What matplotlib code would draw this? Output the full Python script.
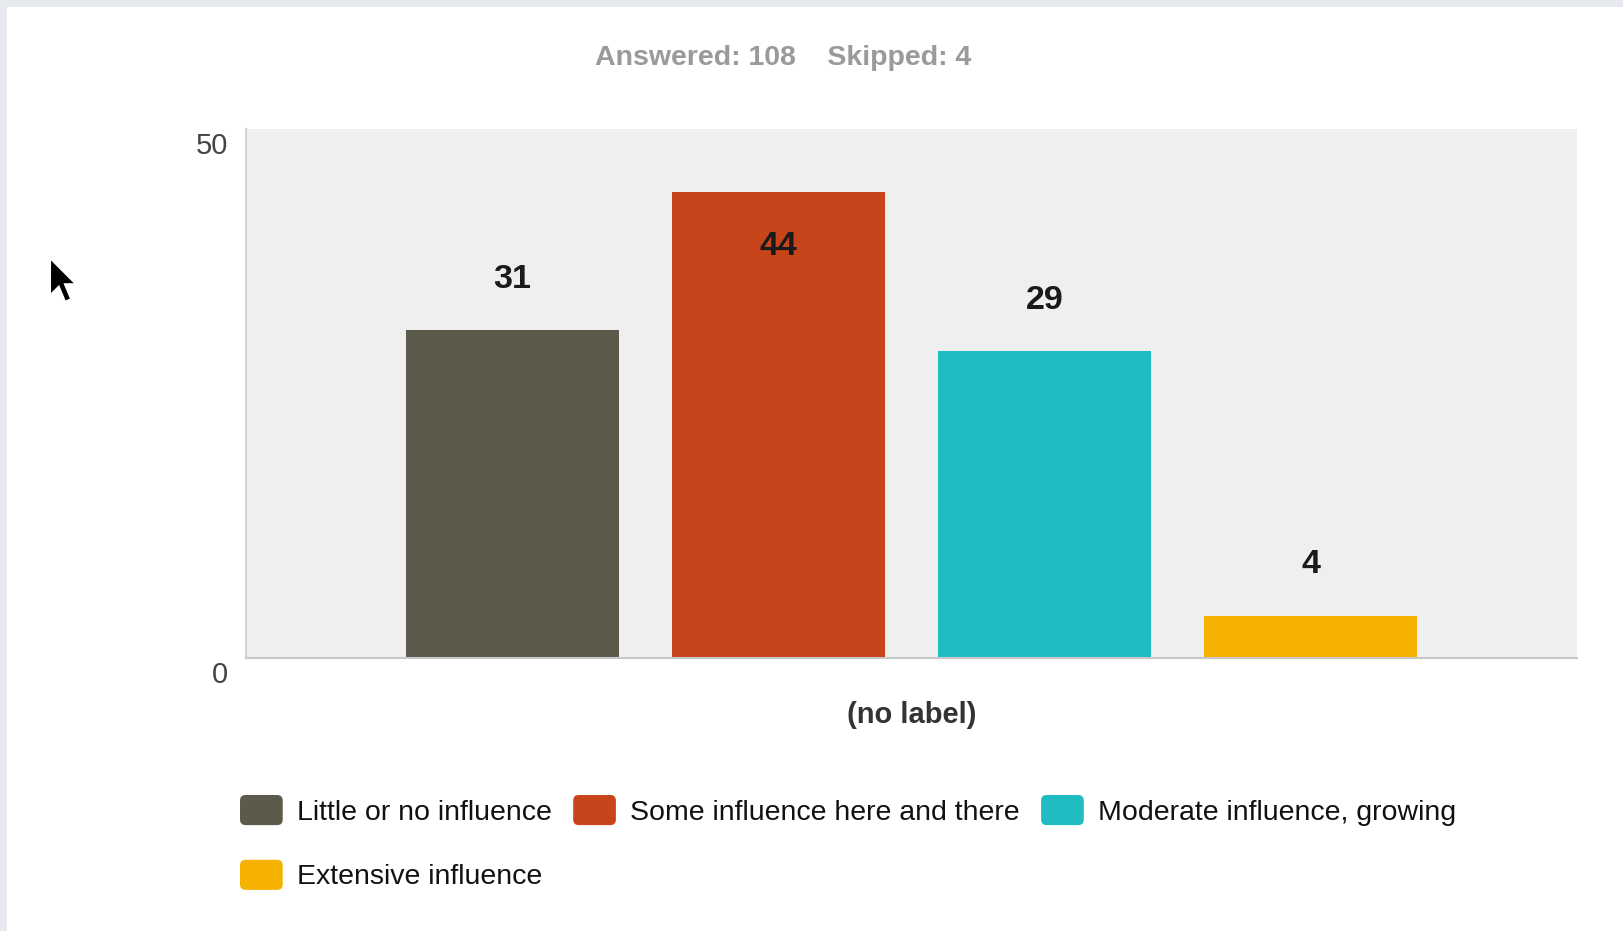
import matplotlib
matplotlib.use("Agg")
import matplotlib.pyplot as plt
import matplotlib.patches as mpatches
import matplotlib.transforms as mtransforms
from matplotlib.legend_handler import HandlerPatch

plt.rcParams['font.family'] = ['Liberation Sans', 'DejaVu Sans']

# data
categories = ['Little or no influence', 'Some influence here and there',
              'Moderate influence, growing', 'Extensive influence']
counts = [31, 44, 29, 4]
colors = ['#5b5a4b', '#c8441a', '#21bcc2', '#f6b200']
y_ticks = [0, 50]
summary = 'Answered: 108    Skipped: 4'
x_label = '(no label)'

W, H = 1623, 931
fig = plt.figure(figsize=(W / 100, H / 100), dpi=100)
fig.patch.set_facecolor('#e6e9ee')
# white page area of the screenshot
fig.patches.append(mpatches.Rectangle((7 / W, 0), 1, 1 - 7 / H, transform=fig.transFigure,
                                      facecolor='white', edgecolor='none', zorder=-1))

ax = fig.add_axes([246 / W, 1 - 658 / H, 1331 / W, 529 / H])
ax.set_zorder(1)
ax.set_facecolor('#efefef')

xs = list(range(len(counts)))
ax.bar(xs, counts, width=0.8, color=colors, zorder=2)
ax.set_xlim(-1, len(counts))
ax.set_ylim(0, 50)

# value labels, moved inside the bar when it reaches near the top
for x, v in zip(xs, counts):
    y = v + 4.8 if v + 4.8 < 46 else v - 5.1
    ax.text(x, y, str(v), ha='center', va='center', fontsize=24.5, fontweight='bold',
            color='#1a1a1a', zorder=3)

for side in ['top', 'right']:
    ax.spines[side].set_visible(False)
ax.spines['left'].set_color('#d4d4d4')
ax.spines['bottom'].set_color('#c8c8c8')
ax.spines['left'].set_linewidth(1.5)
ax.spines['bottom'].set_linewidth(1.5)

ax.set_xticks([])
ax.set_yticks(y_ticks)
ax.set_yticklabels([str(t) for t in y_ticks], fontsize=21, color='#444444')
ax.tick_params(axis='y', length=0, pad=13)
offset = mtransforms.ScaledTranslation(0, -14 / 100, fig.dpi_scale_trans)
for lbl in ax.get_yticklabels():
    lbl.set_transform(lbl.get_transform() + offset)

ax.set_xlabel(x_label, fontsize=21, fontweight='bold', color='#333333', labelpad=31)

fig.text(783 / W, 1 - 58 / H, summary, ha='center', va='center', fontsize=20.5,
         fontweight='bold', color='#9a9a9a')


def rounded_swatch(legend, orig_handle, xdescent, ydescent, width, height, fontsize):
    return mpatches.FancyBboxPatch((-xdescent, -ydescent), width, height,
                                   boxstyle='round,pad=0,rounding_size=4')


# legend: order so that column-major filling gives 3 items on row one, 1 on row two
handles = [mpatches.Patch(facecolor=c, edgecolor='none') for c in colors]
order = [0, 3, 1, 2]
leg = fig.legend([handles[i] for i in order], [categories[i] for i in order],
                 loc='upper left', bbox_to_anchor=(240 / W, 1 - 795 / H), ncol=3,
                 frameon=False, fontsize=20.5, handlelength=1.5, handleheight=1.25,
                 handletextpad=0.5, columnspacing=0.75, labelspacing=1.2,
                 borderpad=0, borderaxespad=0,
                 handler_map={mpatches.Patch: HandlerPatch(patch_func=rounded_swatch)})
for t in leg.get_texts():
    t.set_color('#111111')

# mouse pointer left in the screenshot
cursor = [(0, 0), (0, 30), (7, 23), (12, 35), (17, 33), (12, 21), (21, 21)]
tip_x, tip_y, k = 50, 258, 1.25
pts = [((tip_x + k * px) / W, 1 - (tip_y + k * py) / H) for px, py in cursor]
fig.patches.append(mpatches.Polygon(pts, closed=True, transform=fig.transFigure,
                                    facecolor='black', edgecolor='white', linewidth=1.5,
                                    zorder=5))

fig.savefig('out.png', dpi=100, facecolor=fig.get_facecolor())
